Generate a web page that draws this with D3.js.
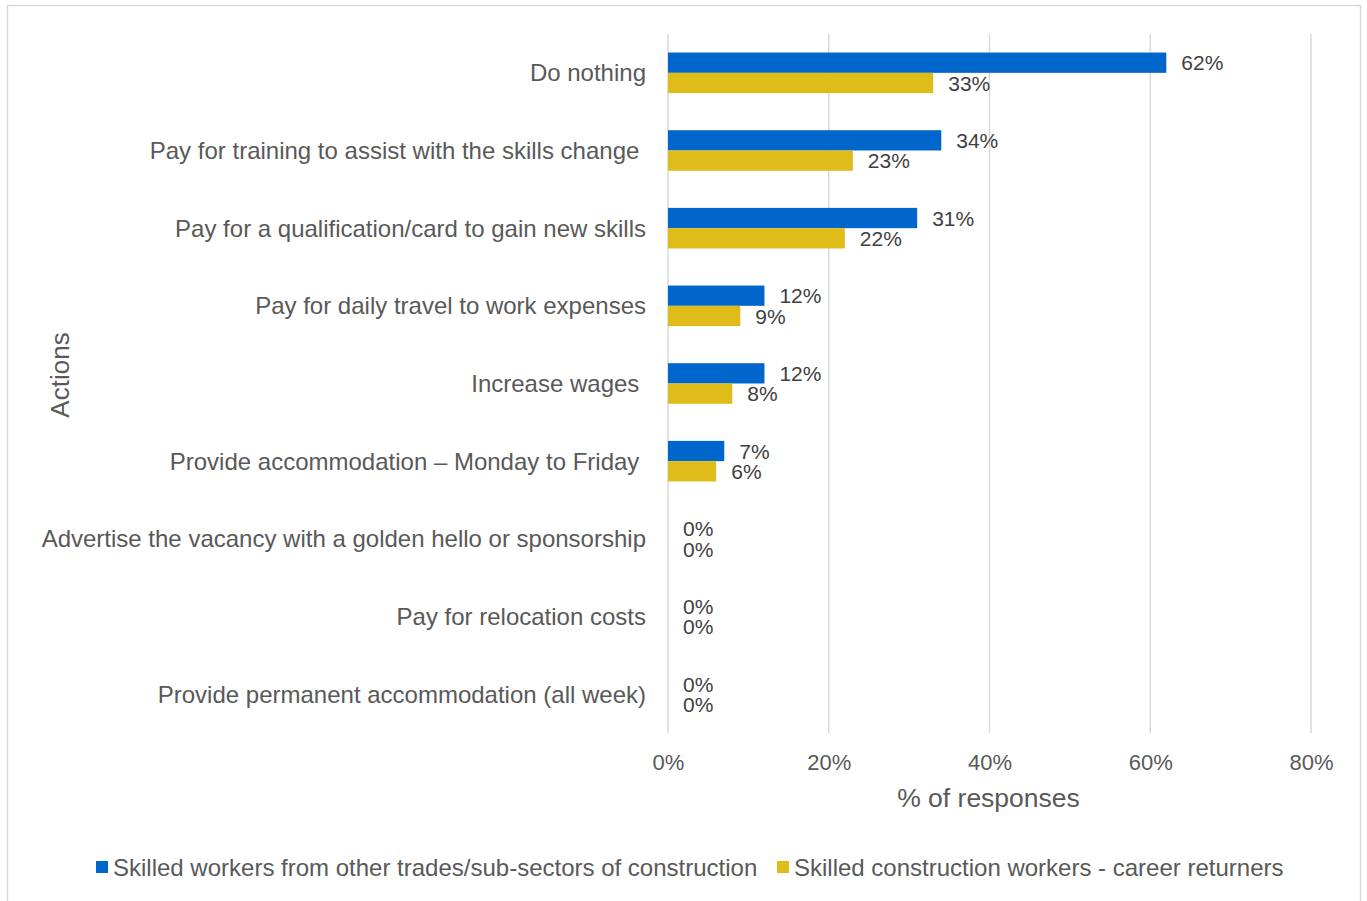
<!DOCTYPE html>
<html>
<head>
<meta charset="utf-8">
<script src="https://cdn.jsdelivr.net/npm/d3@7"></script>
<style>
  html, body { margin: 0; padding: 0; background: #fff; }
  svg { display: block; font-family: "Liberation Sans", Arial, sans-serif; }
  .cat { white-space: pre; }
</style>
</head>
<body>
<svg id="chart" width="1367" height="901"></svg>
<script>
// Actions considered, top to bottom (trailing spaces are part of the source labels)
const categories = [
  "Do nothing",
  "Pay for training to assist with the skills change ",
  "Pay for a qualification/card to gain new skills",
  "Pay for daily travel to work expenses",
  "Increase wages ",
  "Provide accommodation \u2013 Monday to Friday ",
  "Advertise the vacancy with a golden hello or sponsorship",
  "Pay for relocation costs",
  "Provide permanent accommodation (all week)"
];
const seriesNames = [
  "Skilled workers from other trades/sub-sectors of construction",
  "Skilled construction workers - career returners"
];
const otherTrades = [62, 34, 31, 12, 12, 7, 0, 0, 0];
const careerReturners = [33, 23, 22, 9, 8, 6, 0, 0, 0];
const xTicks = [0, 20, 40, 60, 80];
const colors = ["#0066CC", "#E0BC1A"];

const FONT = "'Liberation Sans', Arial, sans-serif";
const svg = d3.select("#chart");

// outer frame
svg.append("rect")
  .attr("x", 7.5).attr("y", 5.5).attr("width", 1353).attr("height", 920)
  .attr("fill", "none").attr("stroke", "#d9d9d9").attr("stroke-width", 1.5);

const x = d3.scaleLinear().domain([0, 80]).range([668, 1311]);
const y = d3.scaleBand().domain(categories).range([34, 733]).padding(0);
const ySub = d3.scaleBand().domain([0, 1]).range([0, y.bandwidth()]).paddingInner(0).paddingOuter(0.914);

// vertical gridlines
svg.append("g").selectAll("line").data(xTicks).join("line")
  .attr("x1", d => x(d)).attr("x2", d => x(d))
  .attr("y1", 34).attr("y2", 733)
  .attr("stroke", "#d9d9d9").attr("stroke-width", 1.5);

// x axis labels
const xAxis = d3.axisBottom(x).tickValues(xTicks).tickFormat(d => d + "%").tickSize(0).tickPadding(0);
const gx = svg.append("g").attr("transform", "translate(0,770)").call(xAxis);
gx.select(".domain").remove();
gx.selectAll("text")
  .attr("fill", "#595959").attr("font-size", 22).attr("dy", 0)
  .attr("font-family", FONT);

// category labels
const yAxis = d3.axisLeft(y).tickSize(0).tickPadding(0);
const gy = svg.append("g").attr("transform", "translate(646,0)").call(yAxis);
gy.select(".domain").remove();
gy.selectAll("text")
  .attr("class", "cat")
  .attr("fill", "#595959").attr("font-size", 24)
  .attr("font-family", FONT)
  .attr("dy", "0.35em");

// bars + value labels
const rows = categories.map((c, i) => ({ cat: c, vals: [otherTrades[i], careerReturners[i]] }));
const groups = svg.append("g").selectAll("g").data(rows).join("g")
  .attr("transform", d => `translate(0,${y(d.cat)})`);

groups.selectAll("rect").data(d => d.vals.map((v, s) => ({ v, s }))).join("rect")
  .attr("x", x(0))
  .attr("y", d => ySub(d.s))
  .attr("width", d => x(d.v) - x(0))
  .attr("height", ySub.bandwidth())
  .attr("fill", d => colors[d.s]);

groups.selectAll("text").data(d => d.vals.map((v, s) => ({ v, s }))).join("text")
  .attr("x", d => x(d.v) + 15)
  .attr("y", d => ySub(d.s) + ySub.bandwidth() / 2)
  .attr("dy", "0.36em")
  .attr("fill", "#404040").attr("font-size", 21)
  .text(d => d.v + "%");

// axis titles
svg.append("text")
  .attr("x", x(40) - 1).attr("y", 807)
  .attr("text-anchor", "middle").attr("fill", "#595959").attr("font-size", 26.5)
  .text("% of responses");

svg.append("text")
  .attr("transform", "translate(69,375) rotate(-90)")
  .attr("text-anchor", "middle").attr("fill", "#595959").attr("font-size", 26)
  .text("Actions");

// legend
const legendItems = [
  { name: seriesNames[0], color: colors[0], x: 96 },
  { name: seriesNames[1], color: colors[1], x: 777 }
];
const lg = svg.append("g").selectAll("g").data(legendItems).join("g")
  .attr("transform", d => `translate(${d.x},867)`);
lg.append("rect").attr("x", 0).attr("y", -6).attr("width", 12).attr("height", 12)
  .attr("fill", d => d.color);
lg.append("text").attr("x", 17).attr("dy", "0.36em")
  .attr("fill", "#595959").attr("font-size", 24)
  .text(d => d.name);
</script>
</body>
</html>
